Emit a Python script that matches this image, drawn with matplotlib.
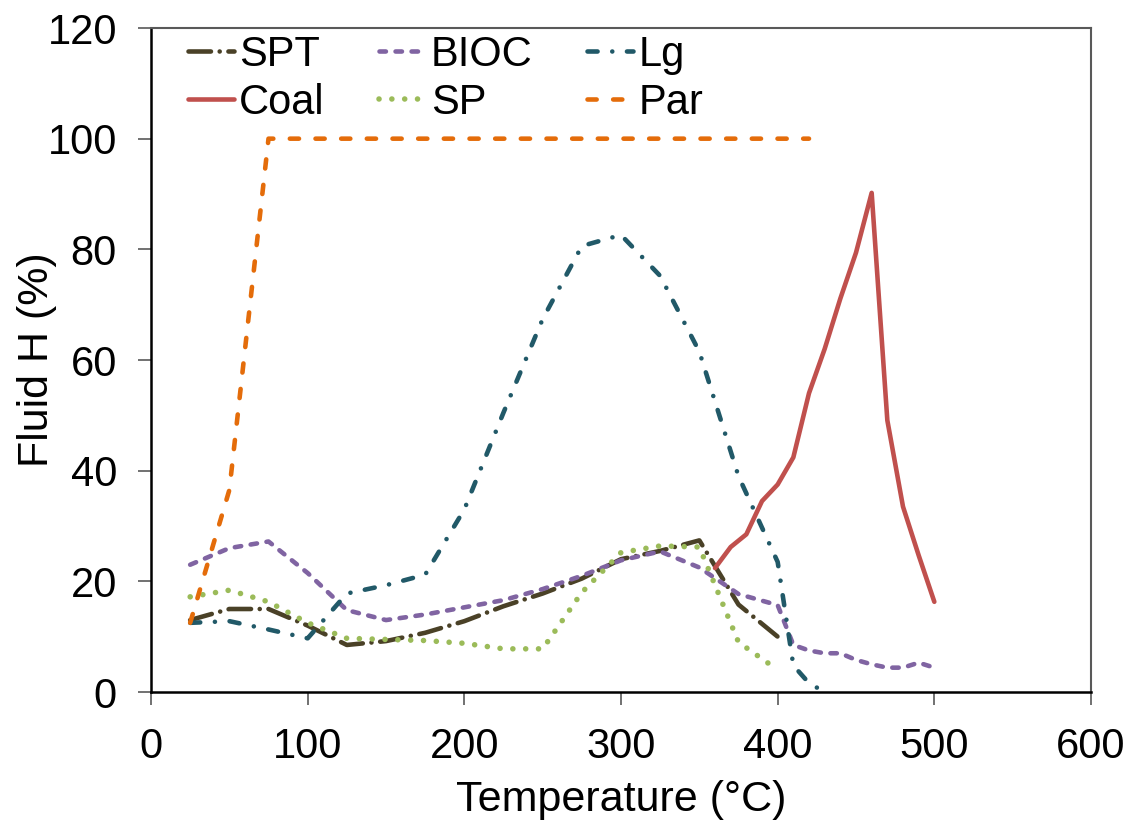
import matplotlib
matplotlib.use("Agg")
import matplotlib.pyplot as plt

plt.rcParams['font.family'] = ['Liberation Sans', 'DejaVu Sans']

# data
spt_x = [25, 50, 75, 100, 125, 150, 175, 200, 225, 250, 275, 300, 325, 350, 375, 400]
spt_y = [13, 15, 15, 12, 8.5, 9.2, 10.7, 12.8, 15.5, 17.8, 20.5, 24, 25.5, 27.4, 15.8, 10]

coal_x = [360, 370, 380, 390, 400, 410, 420, 430, 440, 450, 460, 470, 480, 490, 500]
coal_y = [22.4, 26.2, 28.5, 34.5, 37.5, 42.4, 54, 62, 71.1, 79.4, 90.2, 49.1, 33.5, 24.7, 16.3]

bioc_x = [25, 50, 75, 100, 125, 150, 175, 200, 225, 250, 275, 300, 325, 350, 375, 400,
          410, 420, 430, 440, 450, 460, 470, 480, 490, 500]
bioc_y = [23, 26, 27.2, 21.5, 14.8, 13, 14, 15.3, 16.6, 18.6, 21, 23.8, 25.4, 22.5, 17.7, 15.7,
          8.5, 7.5, 7, 7, 5.8, 5, 4.4, 4.4, 5.3, 4.4]

sp_x = [25, 50, 75, 100, 125, 150, 175, 200, 225, 250, 275, 300, 325, 350, 375, 400]
sp_y = [17.2, 18.4, 16.3, 12.5, 9.7, 9.5, 9.3, 8.8, 7.8, 7.8, 18, 25.2, 26.4, 26.2, 9, 4]

lg_x = [25, 50, 75, 100, 125, 150, 175, 200, 225, 250, 275, 300, 325, 350, 375, 400,
        410, 420, 430]
lg_y = [12.5, 12.8, 11.3, 9.7, 17.8, 19.3, 21.2, 33, 50.5, 67.4, 80.6, 82.6, 75.2, 61.5, 39,
        23.5, 4.8, 1.6, 0]

par_x = [25, 50, 75, 420]
par_y = [12.5, 36.5, 100, 100]

x_ticks = [0, 100, 200, 300, 400, 500, 600]
y_ticks = [0, 20, 40, 60, 80, 100, 120]

fig = plt.figure(figsize=(11.36, 8.30), dpi=100)
ax = fig.add_axes([151 / 1136, 1 - 692 / 830, 940 / 1136, 664 / 830])

lw = 3.3
# (label, x, y, colour, dash pattern in units of line width, width)
series = [
    ("SPT", spt_x, spt_y, "#4a4127", (0, (4.9, 1.9, 0.01, 1.9)), lw),
    ("Coal", coal_x, coal_y, "#c0504d", "-", lw),
    ("BIOC", bioc_x, bioc_y, "#8064a2", (0, (1.4, 2.1)), lw),
    ("SP", sp_x, sp_y, "#9bbb59", (0, (0.01, 2.3)), 4.0),
    ("Lg", lg_x, lg_y, "#215968", (0, (2.2, 3.2, 0.01, 3.2)), lw),
    ("Par", par_x, par_y, "#e46c0a", (0, (2.0, 3.6)), lw),
]

for label, xs, ys, col, ls, w in series:
    line, = ax.plot(xs, ys, color=col, lw=w, label=label)
    line.set_linestyle(ls)
    line.set_dash_capstyle("round")
    line.set_solid_capstyle("round")
    line.set_solid_joinstyle("round")
    line.set_dash_joinstyle("round")

ax.set_xlim(0, 600)
ax.set_ylim(0, 120)
ax.set_xticks(x_ticks)
ax.set_yticks(y_ticks)

for side in ["top", "right"]:
    ax.spines[side].set_color("#595959")
    ax.spines[side].set_linewidth(1.5)
for side in ["left", "bottom"]:
    ax.spines[side].set_color("black")
    ax.spines[side].set_linewidth(1.8)

ax.tick_params(axis="both", direction="out", length=9.5, width=1.2,
               color="#595959", labelsize=30, labelcolor="black")
ax.tick_params(axis="x", pad=16)
ax.tick_params(axis="y", pad=15)

ax.set_xlabel("Temperature (°C)", fontsize=31)
ax.set_ylabel("Fluid H (%)", fontsize=31)
ax.xaxis.set_label_coords(0.5, -0.133)
ax.yaxis.set_label_coords(-0.1, 0.5)

ax.legend(loc="upper left", bbox_to_anchor=(0.039, 0.99), ncol=3, frameon=False,
          fontsize=30, handlelength=1.12, handletextpad=0.12, columnspacing=1.3,
          labelspacing=0.2, borderpad=0, borderaxespad=0)

fig.savefig("out.png", dpi=100)
